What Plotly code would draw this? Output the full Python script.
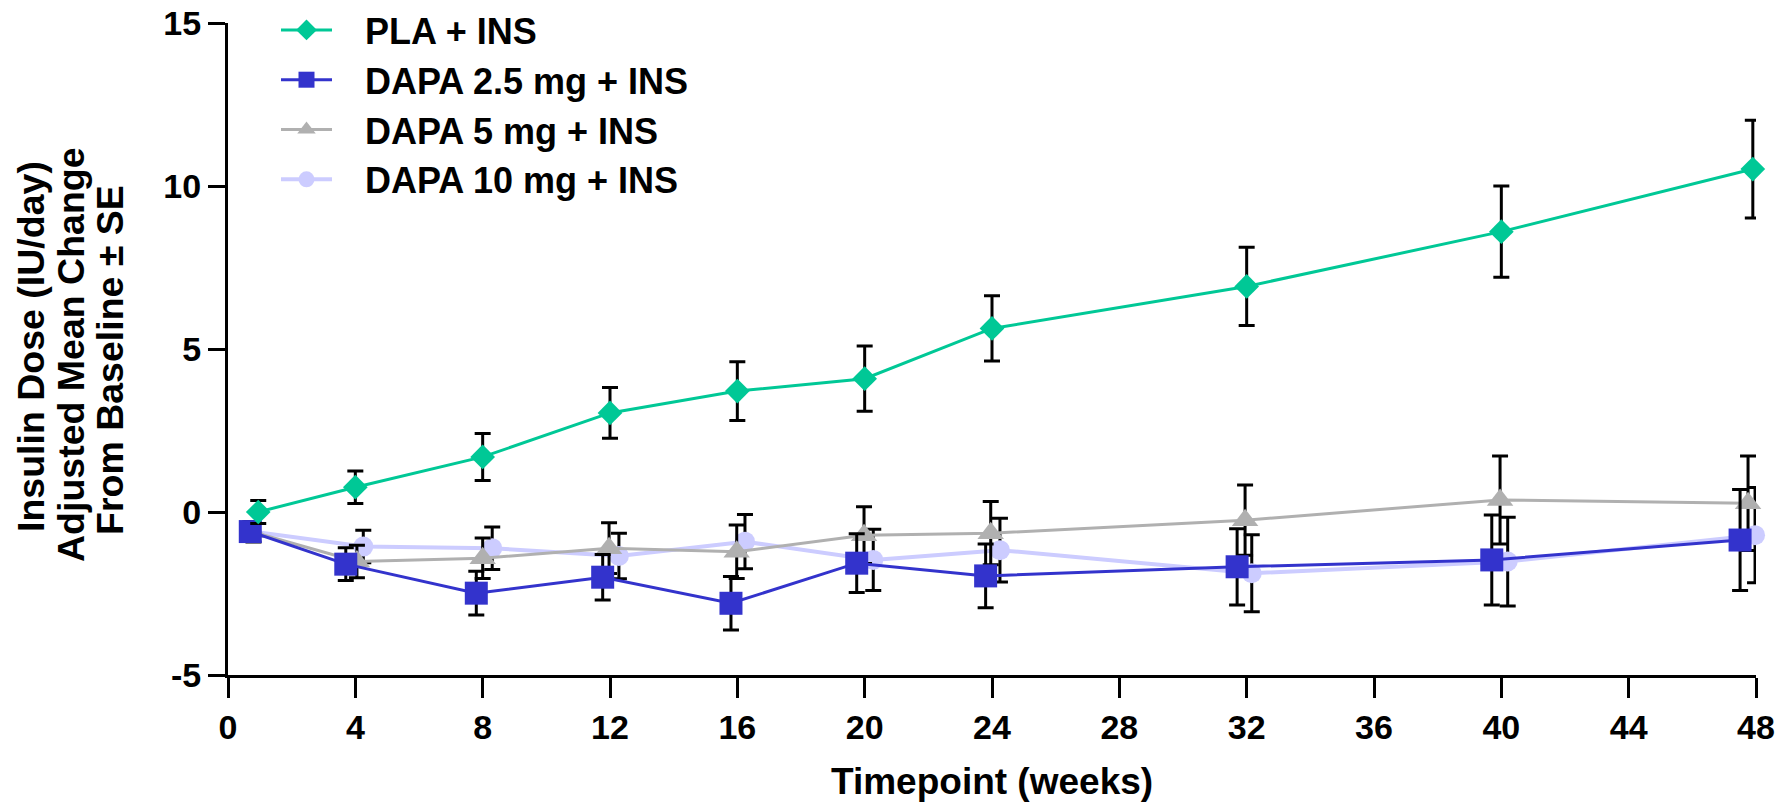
import plotly.graph_objects as go

# ---- data ----
series_names = ["PLA + INS", "DAPA 2.5 mg + INS", "DAPA 5 mg + INS", "DAPA 10 mg + INS"]

pla_x = [0.95, 4.0, 8.0, 12.0, 16.0, 20.0, 24.0, 32.0, 40.0, 47.9]
pla_y = [0.0, 0.76, 1.69, 3.04, 3.71, 4.09, 5.63, 6.92, 8.6, 10.52]
pla_se = [0.35, 0.5, 0.72, 0.78, 0.9, 1.0, 1.0, 1.2, 1.4, 1.5]

d25_x = [0.7, 3.7, 7.8, 11.77, 15.8, 19.75, 23.8, 31.7, 39.7, 47.5]
d25_y = [-0.6, -1.6, -2.49, -2.0, -2.8, -1.57, -1.96, -1.68, -1.47, -0.86]
d25_se = [0.3, 0.5, 0.67, 0.7, 0.82, 0.9, 0.98, 1.17, 1.38, 1.55]

d5_x = [0.8, 4.05, 8.0, 11.97, 15.98, 19.98, 23.96, 31.95, 39.96, 47.75]
d5_y = [-0.62, -1.52, -1.42, -1.11, -1.22, -0.71, -0.65, -0.25, 0.37, 0.27]
d5_se = [0.3, 0.5, 0.62, 0.78, 0.82, 0.87, 0.97, 1.08, 1.35, 1.45]

d10_x = [0.75, 4.25, 8.3, 12.28, 16.24, 20.27, 24.25, 32.16, 40.2, 47.97]
d10_y = [-0.6, -1.06, -1.11, -1.35, -0.91, -1.47, -1.17, -1.88, -1.52, -0.71]
d10_se = [0.3, 0.5, 0.65, 0.7, 0.83, 0.94, 0.98, 1.18, 1.36, 1.46]

x_ticks = [0, 4, 8, 12, 16, 20, 24, 28, 32, 36, 40, 44, 48]
y_ticks = [-5, 0, 5, 10, 15]

x_title = "Timepoint (weeks)"
y_title_lines = ["Insulin Dose (IU/day)", "Adjusted Mean Change", "From Baseline ± SE"]

FONT = "Arial, Liberation Sans, sans-serif"
PAD = "\u2002\u00a0"  # gap between legend symbol and label


def trace(x, y, se, name, color, symbol, size, rank, lw=3):
    return go.Scatter(
        x=x, y=y, name=PAD + name, mode="lines+markers",
        line=dict(color=color, width=lw),
        marker=dict(color=color, symbol=symbol, size=size),
        error_y=dict(type="data", array=se, visible=True, color="black",
                     thickness=3, width=8),
        cliponaxis=False, legendrank=rank,
    )


fig = go.Figure()
fig.add_trace(trace(d10_x, d10_y, d10_se, series_names[3], "#CCCCFF", "circle", 20, 4, 4))
fig.add_trace(trace(d5_x, d5_y, d5_se, series_names[2], "#B0B0B0", "triangle-up", 23, 3))
fig.add_trace(trace(d25_x, d25_y, d25_se, series_names[1], "#3333CC", "square", 23, 2))
fig.add_trace(trace(pla_x, pla_y, pla_se, series_names[0], "#00C896", "diamond", 19, 1))

W, H = 1791, 803
L, R, T, B = 228, 35, 0, 128
PLOT_TOP = 23
pw = W - L - R
ph = H - T - B  # paper height (675)

annotations = []
ycen_px = [347, 355, 360]
xcen_px = [31, 71, 110]
for line, xc, yc in zip(y_title_lines, xcen_px, ycen_px):
    annotations.append(dict(
        text=line, textangle=-90, xref="paper", yref="paper",
        x=(xc - L) / pw, y=(ph - yc) / ph, xanchor="center", yanchor="middle",
        showarrow=False, font=dict(family=FONT, size=37.5, color="black", weight="bold"),
    ))
annotations.append(dict(
    text=x_title, xref="paper", yref="paper",
    x=0.5, y=-(781 - ph) / ph, xanchor="center", yanchor="middle",
    showarrow=False, font=dict(family=FONT, size=37, color="black", weight="bold"),
))

fig.update_layout(
    width=W, height=H,
    margin=dict(l=L, r=R, t=T, b=B, pad=0, autoexpand=False),
    paper_bgcolor="white", plot_bgcolor="white",
    font=dict(family=FONT, color="black"),
    showlegend=True,
    legend=dict(
        x=(276 - L) / pw, y=1.0, xanchor="left", yanchor="top",
        font=dict(family=FONT, size=36, color="black", weight="bold"),
        bgcolor="rgba(0,0,0,0)", itemwidth=51, tracegroupgap=0,
    ),
    annotations=annotations,
    xaxis=dict(
        range=[0, 48], tickvals=x_ticks, ticktext=[str(v) for v in x_ticks],
        showline=True, linecolor="black", linewidth=3,
        ticks="outside", ticklen=20, tickwidth=3, tickcolor="black",
        showgrid=False, zeroline=False,
        tickfont=dict(family=FONT, size=34, color="black", weight="bold"),
    ),
    yaxis=dict(
        domain=[0, (ph - PLOT_TOP) / ph],
        range=[-5, 15], tickvals=y_ticks, ticktext=[str(v) for v in y_ticks],
        showline=True, linecolor="black", linewidth=3,
        ticks="outside", ticklen=17, tickwidth=3, tickcolor="black",
        showgrid=False, zeroline=False,
        tickfont=dict(family=FONT, size=34, color="black", weight="bold"),
    ),
)

fig.write_html("out.html", config={"displayModeBar": False},
               post_script="document.body.style.margin='0px';")
